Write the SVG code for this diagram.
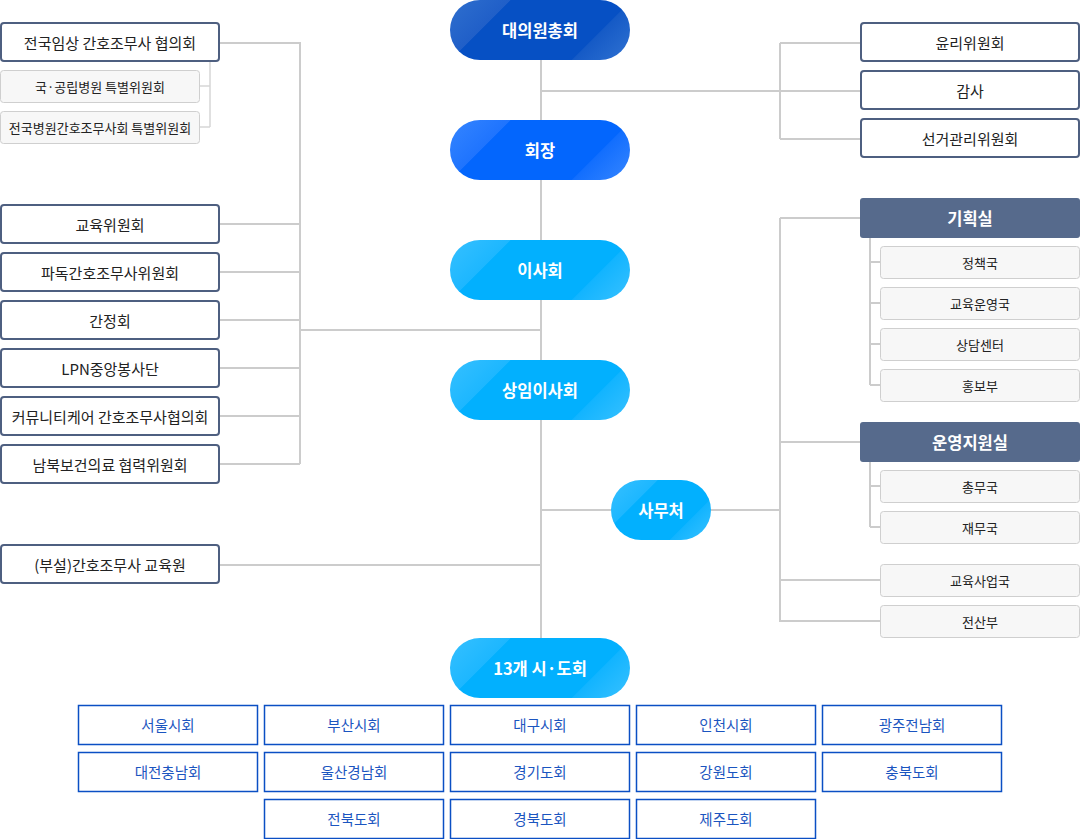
<svg xmlns="http://www.w3.org/2000/svg" width="1080" height="839" viewBox="0 0 1080 839">
<defs>
<linearGradient id="gDark" gradientUnits="userSpaceOnUse" x1="0" y1="0" x2="120" y2="120">
<stop offset="0" stop-color="#2f6fce"/><stop offset="0.25" stop-color="#205fc8"/><stop offset="0.255" stop-color="#0650c4"/><stop offset="0.755" stop-color="#0650c4"/><stop offset="0.76" stop-color="#155ac6"/><stop offset="1" stop-color="#3072d2"/>
</linearGradient>
<linearGradient id="gMid" gradientUnits="userSpaceOnUse" x1="0" y1="0" x2="120" y2="120">
<stop offset="0" stop-color="#3585ff"/><stop offset="0.25" stop-color="#1f74fe"/><stop offset="0.255" stop-color="#0366fd"/><stop offset="0.755" stop-color="#0366fd"/><stop offset="0.76" stop-color="#126efe"/><stop offset="1" stop-color="#3686ff"/>
</linearGradient>
<linearGradient id="gLight" gradientUnits="userSpaceOnUse" x1="0" y1="0" x2="120" y2="120">
<stop offset="0" stop-color="#36c0ff"/><stop offset="0.25" stop-color="#1db7ff"/><stop offset="0.255" stop-color="#02b0fe"/><stop offset="0.755" stop-color="#02b0fe"/><stop offset="0.76" stop-color="#12b4ff"/><stop offset="1" stop-color="#38c1ff"/>
</linearGradient>
<linearGradient id="gSmall" gradientUnits="userSpaceOnUse" x1="0" y1="0" x2="80" y2="80">
<stop offset="0" stop-color="#36c0ff"/><stop offset="0.29" stop-color="#1db7ff"/><stop offset="0.295" stop-color="#02b0fe"/><stop offset="0.74" stop-color="#02b0fe"/><stop offset="0.745" stop-color="#12b4ff"/><stop offset="1" stop-color="#38c1ff"/>
</linearGradient>
</defs>
<style>
text{font-family:"Noto Sans CJK KR","Noto Sans",sans-serif;text-anchor:middle;dominant-baseline:central}
.pill text{fill:#fff;font-size:16.5px;font-weight:bold}
.box rect{fill:#fff;stroke:#4e5f80;stroke-width:2}
.box text{fill:#222;font-size:15px}
.sub rect{fill:#f7f7f7;stroke:#cfcfcf;stroke-width:1}
.sub text{fill:#222;font-size:13px}
.head rect{fill:#566a8c}
.head text{fill:#fff;font-size:16.5px;font-weight:bold}
.city rect{fill:#fff;stroke:#0b4fc4;stroke-width:1.5}
.city text{fill:#1b55c0;font-size:14.5px}
.conn{fill:none;stroke:#cccccc;stroke-width:2}
.conn2{fill:none;stroke:#d6d6d6;stroke-width:1.5}
</style>
<g id="connectors">
<path class="conn" d="M541 60V638"/>
<path class="conn" d="M541 91H861M780 43V139M780 43H861M780 139H861"/>
<path class="conn" d="M219 43H300V464M219 224H300M219 272H300M219 320H300M219 368H300M219 416H300M219 464H300M300 330H541"/>
<path class="conn" d="M219 565H541"/>
<path class="conn" d="M541 510H611M711 510H780"/>
<path class="conn" d="M780 218V622M780 218H860M780 442H860M780 580H880M780 621H880"/>
<path class="conn" d="M870 237V385M870 262H880M870 303H880M870 344H880M870 385H880"/>
<path class="conn" d="M870 461V527M870 486H880M870 527H880"/>
<path class="conn2" d="M210 61V127M200 86H210M200 127H210"/>
</g>
<g id="n-daeuiwon" class="pill" transform="translate(450 0)"><rect width="180" height="60" rx="30" fill="url(#gDark)"/><text x="90" y="30">대의원총회</text></g>
<g id="n-hoejang" class="pill" transform="translate(450 120)"><rect width="180" height="60" rx="30" fill="url(#gMid)"/><text x="90" y="30">회장</text></g>
<g id="n-isahoe" class="pill" transform="translate(450 240)"><rect width="180" height="60" rx="30" fill="url(#gLight)"/><text x="90" y="30">이사회</text></g>
<g id="n-sangim" class="pill" transform="translate(450 360)"><rect width="180" height="60" rx="30" fill="url(#gLight)"/><text x="90" y="30">상임이사회</text></g>
<g id="n-samucheo" class="pill" transform="translate(611 480)"><rect width="100" height="60" rx="30" fill="url(#gSmall)"/><text x="50" y="30">사무처</text></g>
<g id="n-sido" class="pill" transform="translate(450 638)"><rect width="180" height="60" rx="30" fill="url(#gLight)"/><text x="90" y="30">13개 시·도회</text></g>

<g id="n-l1" class="box"><rect x="1" y="23" width="218" height="38" rx="3"/><text x="110" y="42">전국임상 간호조무사 협의회</text></g>
<g id="n-l1a" class="sub"><rect x="0.5" y="70.5" width="199" height="32" rx="3"/><text x="100" y="86.5">국·공립병원 특별위원회</text></g>
<g id="n-l1b" class="sub"><rect x="0.5" y="111.5" width="199" height="32" rx="3"/><text x="100" y="127.5">전국병원간호조무사회 특별위원회</text></g>
<g id="n-l2" class="box"><rect x="1" y="205" width="218" height="38" rx="3"/><text x="110" y="224">교육위원회</text></g>
<g id="n-l3" class="box"><rect x="1" y="253" width="218" height="38" rx="3"/><text x="110" y="272">파독간호조무사위원회</text></g>
<g id="n-l4" class="box"><rect x="1" y="301" width="218" height="38" rx="3"/><text x="110" y="320">간정회</text></g>
<g id="n-l5" class="box"><rect x="1" y="349" width="218" height="38" rx="3"/><text x="110" y="368">LPN중앙봉사단</text></g>
<g id="n-l6" class="box"><rect x="1" y="397" width="218" height="38" rx="3"/><text x="110" y="416">커뮤니티케어 간호조무사협의회</text></g>
<g id="n-l7" class="box"><rect x="1" y="445" width="218" height="38" rx="3"/><text x="110" y="464">남북보건의료 협력위원회</text></g>
<g id="n-l8" class="box"><rect x="1" y="545" width="218" height="38" rx="3"/><text x="110" y="564">(부설)간호조무사 교육원</text></g>

<g id="n-r1" class="box"><rect x="861" y="23" width="218" height="38" rx="3"/><text x="970" y="42">윤리위원회</text></g>
<g id="n-r2" class="box"><rect x="861" y="71" width="218" height="38" rx="3"/><text x="970" y="90">감사</text></g>
<g id="n-r3" class="box"><rect x="861" y="119" width="218" height="38" rx="3"/><text x="970" y="138">선거관리위원회</text></g>

<g id="n-gihoek" class="head"><rect x="860" y="198" width="220" height="40" rx="3"/><text x="970" y="218">기획실</text></g>
<g id="n-g1" class="sub"><rect x="880.5" y="246.5" width="199" height="32" rx="3"/><text x="980" y="262.5">정책국</text></g>
<g id="n-g2" class="sub"><rect x="880.5" y="287.5" width="199" height="32" rx="3"/><text x="980" y="303.5">교육운영국</text></g>
<g id="n-g3" class="sub"><rect x="880.5" y="328.5" width="199" height="32" rx="3"/><text x="980" y="344.5">상담센터</text></g>
<g id="n-g4" class="sub"><rect x="880.5" y="369.5" width="199" height="32" rx="3"/><text x="980" y="385.5">홍보부</text></g>
<g id="n-unyeong" class="head"><rect x="860" y="422" width="220" height="40" rx="3"/><text x="970" y="442">운영지원실</text></g>
<g id="n-u1" class="sub"><rect x="880.5" y="470.5" width="199" height="32" rx="3"/><text x="980" y="486.5">총무국</text></g>
<g id="n-u2" class="sub"><rect x="880.5" y="511.5" width="199" height="32" rx="3"/><text x="980" y="527.5">재무국</text></g>
<g id="n-s1" class="sub"><rect x="880.5" y="564.5" width="199" height="32" rx="3"/><text x="980" y="580.5">교육사업국</text></g>
<g id="n-s2" class="sub"><rect x="880.5" y="605.5" width="199" height="32" rx="3"/><text x="980" y="621.5">전산부</text></g>

<g id="n-c1" class="city"><rect x="78.5" y="705.5" width="179" height="39"/><text x="168" y="724.5">서울시회</text></g>
<g id="n-c2" class="city"><rect x="264.5" y="705.5" width="179" height="39"/><text x="354" y="724.5">부산시회</text></g>
<g id="n-c3" class="city"><rect x="450.5" y="705.5" width="179" height="39"/><text x="540" y="724.5">대구시회</text></g>
<g id="n-c4" class="city"><rect x="636.5" y="705.5" width="179" height="39"/><text x="726" y="724.5">인천시회</text></g>
<g id="n-c5" class="city"><rect x="822.5" y="705.5" width="179" height="39"/><text x="912" y="724.5">광주전남회</text></g>
<g id="n-c6" class="city"><rect x="78.5" y="752.5" width="179" height="39"/><text x="168" y="771.5">대전충남회</text></g>
<g id="n-c7" class="city"><rect x="264.5" y="752.5" width="179" height="39"/><text x="354" y="771.5">울산경남회</text></g>
<g id="n-c8" class="city"><rect x="450.5" y="752.5" width="179" height="39"/><text x="540" y="771.5">경기도회</text></g>
<g id="n-c9" class="city"><rect x="636.5" y="752.5" width="179" height="39"/><text x="726" y="771.5">강원도회</text></g>
<g id="n-c10" class="city"><rect x="822.5" y="752.5" width="179" height="39"/><text x="912" y="771.5">충북도회</text></g>
<g id="n-c11" class="city"><rect x="264.5" y="799.5" width="179" height="39"/><text x="354" y="818.5">전북도회</text></g>
<g id="n-c12" class="city"><rect x="450.5" y="799.5" width="179" height="39"/><text x="540" y="818.5">경북도회</text></g>
<g id="n-c13" class="city"><rect x="636.5" y="799.5" width="179" height="39"/><text x="726" y="818.5">제주도회</text></g>
</svg>
